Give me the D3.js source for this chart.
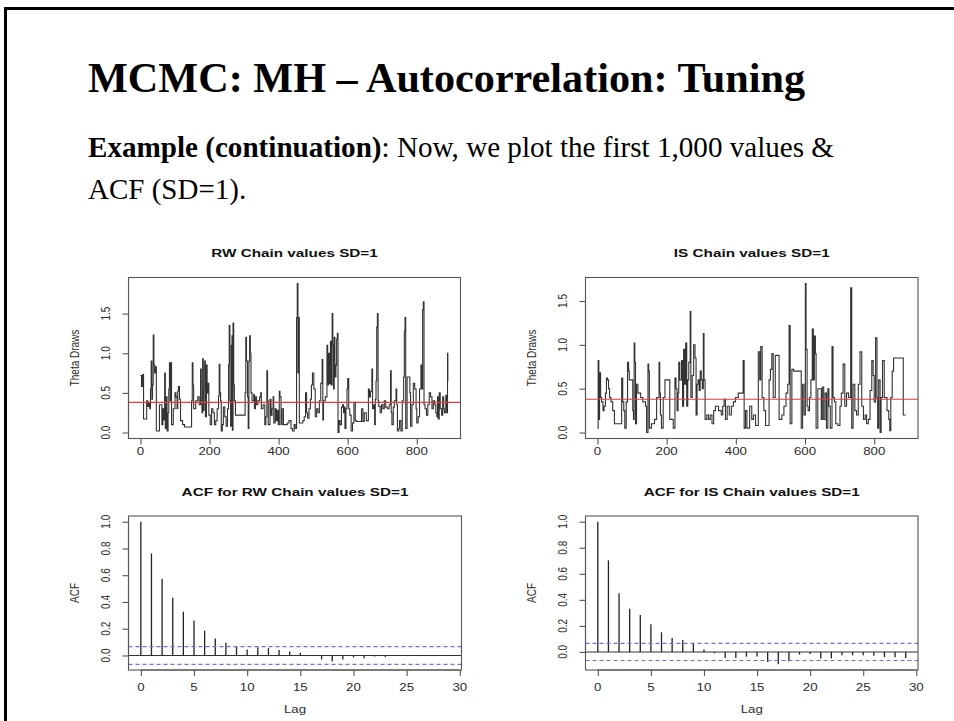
<!DOCTYPE html>
<html>
<head>
<meta charset="utf-8">
<script src="https://cdn.jsdelivr.net/npm/d3@7"></script>
<style>
  body { margin: 0; background: #fff; }
  svg { display: block; }
</style>
</head>
<body>
<svg id="slide" width="954" height="721"></svg>
<script>
// ---- Slide text ----
const slideTitle = "MCMC: MH \u2013 Autocorrelation: Tuning";
const introBold = "Example (continuation)";
const introRest = ": Now, we plot the first 1,000 values &";
const introLine2 = "ACF (SD=1).";

// ---- Panel titles and axis labels ----
const traceTitles = ["RW Chain values SD=1", "IS Chain values SD=1"];
const acfTitles = ["ACF for RW Chain values SD=1", "ACF for IS Chain values SD=1"];
const traceYLabel = "Theta Draws";
const acfYLabel = "ACF";
const acfXLabel = "Lag";

// ---- Chain draws: [iteration, theta] at each accepted move (value holds until the next move) ----
const chainLength = 891;
const rwSteps = [
  [0,0.72],[3,0.58],[6,0.73],[9,0.17],[18,0.40],[21,0.33],[24,0.38],[27,0.30],[29,0.55],[31,0.90],
  [33,0.42],[35,0.60],[37,1.23],[39,0.85],[41,0.75],[43,0.83],[46,0.02],[55,0.35],[62,0.10],[65,0.30],
  [67,0.16],[70,0.75],[72,0.05],[75,0.45],[77,0.02],[80,0.25],[82,0.55],[84,0.88],[86,0.40],[88,0.88],
  [90,0.10],[95,0.30],[100,0.50],[103,0.45],[106,0.30],[108,0.52],[110,0.58],[113,0.42],[116,0.15],[122,0.10],
  [128,0.07],[148,0.40],[150,0.88],[152,0.60],[154,0.30],[160,0.40],[166,0.45],[170,0.35],[174,0.80],[176,0.40],
  [178,0.25],[180,0.93],[182,0.28],[184,0.55],[186,0.90],[188,0.20],[191,0.85],[193,0.50],[196,0.62],[198,0.22],
  [202,0.10],[206,0.30],[210,0.25],[214,0.10],[218,0.15],[222,0.30],[226,0.46],[228,0.86],[230,0.50],[232,0.40],
  [234,0.02],[237,0.10],[240,0.32],[244,0.20],[248,0.08],[252,0.30],[255,0.85],[257,1.35],[259,0.40],[261,0.08],
  [263,1.10],[265,1.22],[266,0.03],[268,1.38],[270,0.60],[272,0.40],[275,0.22],[303,0.50],[305,1.20],[307,0.90],
  [310,0.45],[312,0.05],[314,0.90],[316,1.22],[318,1.00],[320,0.50],[323,0.40],[328,0.48],[330,0.30],[333,0.45],
  [336,0.35],[340,0.40],[345,0.45],[348,0.50],[350,0.30],[355,0.35],[360,0.10],[363,0.20],[366,0.78],[368,0.40],
  [370,0.10],[375,0.42],[378,0.22],[381,0.30],[384,0.45],[386,0.12],[390,0.30],[393,0.15],[396,0.28],[399,0.10],
  [402,0.52],[404,0.45],[407,0.10],[410,0.30],[414,0.10],[425,0.12],[430,0.15],[436,0.05],[440,0.02],[445,0.10],
  [448,0.05],[452,1.45],[454,1.88],[456,0.75],[458,1.45],[460,0.12],[470,0.15],[474,0.20],[478,0.50],[481,0.25],
  [484,0.18],[488,0.30],[492,0.42],[495,0.60],[498,0.75],[502,0.55],[506,0.20],[510,0.30],[514,0.25],[518,0.40],
  [522,0.62],[526,0.92],[528,0.16],[530,0.40],[535,0.45],[540,1.10],[542,0.60],[545,1.00],[548,0.62],[550,1.15],
  [552,0.60],[555,1.50],[557,1.10],[559,0.55],[561,1.20],[563,0.70],[566,0.85],[568,1.18],[570,1.25],[572,0.00],
  [575,0.15],[578,0.10],[582,0.32],[585,0.35],[588,0.25],[590,0.32],[592,0.05],[595,0.30],[598,0.55],[600,0.68],
  [603,0.30],[606,0.22],[610,0.02],[614,0.12],[618,0.38],[622,0.15],[626,0.14],[640,0.30],[644,0.14],[648,0.25],
  [654,0.15],[660,0.55],[663,0.45],[666,0.52],[670,0.80],[672,0.30],[675,0.35],[678,0.10],[680,0.42],[682,0.65],
  [684,1.33],[686,1.50],[688,0.40],[690,0.33],[694,0.25],[698,0.35],[702,0.30],[706,0.40],[710,0.32],[715,0.30],
  [720,0.35],[724,0.78],[726,0.25],[728,0.10],[732,0.32],[735,0.40],[740,0.55],[742,0.35],[744,0.02],[748,0.05],
  [750,0.15],[754,0.02],[758,0.40],[762,0.70],[764,1.28],[766,1.45],[768,0.05],[772,0.70],[780,0.50],[782,0.08],
  [786,0.35],[790,0.62],[794,0.55],[798,0.30],[800,0.12],[804,0.20],[808,0.55],[812,0.85],[815,0.55],[817,1.55],
  [819,1.65],[821,0.35],[824,0.30],[828,0.22],[832,0.35],[836,0.50],[840,0.45],[844,0.30],[848,0.40],[852,0.35],
  [855,0.25],[858,0.20],[860,0.45],[862,0.17],[865,0.50],[868,0.30],[872,0.22],[875,0.45],[878,0.30],[880,0.25],
  [884,0.47],[887,0.25],[889,1.00],[890,0.65]
];
const isSteps = [
  [0,0.05],[2,0.82],[4,0.15],[6,0.68],[9,0.40],[12,0.35],[16,0.25],[19,0.30],[23,0.45],[26,0.62],
  [29,0.60],[32,0.50],[35,0.40],[39,0.35],[44,0.25],[49,0.10],[70,0.62],[73,0.35],[76,0.25],[79,0.05],
  [83,0.35],[87,0.80],[90,0.70],[92,0.60],[102,0.25],[104,0.15],[106,1.02],[108,0.80],[110,0.10],[113,0.55],
  [117,0.45],[125,0.40],[131,0.35],[139,0.30],[142,0.00],[146,0.78],[148,0.70],[150,0.05],[156,0.10],[165,0.15],
  [171,0.40],[178,0.80],[180,0.45],[182,0.20],[185,0.05],[190,0.40],[195,0.60],[209,0.15],[219,0.05],[224,0.62],
  [227,0.50],[230,0.25],[233,0.45],[235,0.80],[238,0.60],[243,0.82],[246,0.30],[249,0.95],[252,0.55],[255,1.02],
  [258,0.30],[261,0.60],[264,0.80],[268,1.38],[270,0.40],[274,0.65],[278,1.00],[282,0.85],[285,0.20],[288,0.55],
  [291,0.60],[294,0.48],[297,0.70],[300,0.60],[303,0.50],[306,1.13],[308,0.60],[311,0.15],[316,0.20],[321,0.15],
  [326,0.20],[331,0.10],[336,0.25],[341,0.30],[350,0.25],[358,0.20],[362,0.30],[366,0.38],[370,0.15],[375,0.30],
  [381,0.20],[387,0.30],[393,0.35],[399,0.40],[407,0.45],[421,0.82],[424,0.05],[428,0.25],[432,0.05],[440,0.30],
  [446,0.15],[451,0.20],[457,0.08],[465,0.92],[469,0.60],[472,0.98],[476,0.40],[481,0.25],[486,0.08],[496,0.60],
  [500,0.72],[504,0.90],[508,0.40],[514,0.88],[525,0.15],[533,0.20],[539,0.30],[545,0.45],[550,0.55],[554,1.22],
  [557,0.10],[562,0.72],[567,0.70],[589,0.05],[593,0.55],[597,0.20],[601,1.70],[603,0.95],[606,0.30],[609,0.25],
  [613,0.40],[617,0.60],[621,1.18],[624,0.60],[627,1.10],[630,0.90],[632,0.05],[637,0.50],[647,0.15],[650,0.52],
  [654,0.15],[658,0.45],[662,0.05],[666,0.50],[669,0.30],[673,0.05],[678,0.98],[681,0.40],[685,0.35],[689,0.10],
  [695,0.08],[701,0.30],[705,0.45],[710,0.78],[715,0.30],[720,0.45],[726,0.40],[732,1.65],[735,0.05],[739,0.55],
  [744,0.25],[749,0.20],[754,0.55],[759,0.92],[764,0.30],[769,0.15],[774,0.20],[778,0.10],[783,0.15],[788,0.48],
  [793,0.82],[797,0.65],[800,0.35],[804,1.08],[808,0.40],[810,0.05],[813,0.60],[817,0.00],[820,0.40],[824,0.82],
  [829,0.40],[837,0.25],[842,0.15],[845,0.02],[848,0.40],[852,0.70],[856,0.85],[884,0.20]
];
const meanTheta = 0.38;

// ---- Sample autocorrelations, lags 0..29 ----
const rwAcf = [1.000, 0.763, 0.574, 0.431, 0.327, 0.262, 0.185, 0.127, 0.095, 0.065,
               0.045, 0.062, 0.055, 0.040, 0.030, 0.020, 0.002, -0.030, -0.045, -0.030,
               -0.015, -0.020, -0.008, -0.012, 0.000, -0.005, 0.003, 0.002, -0.002, 0.001];
const isAcf = [1.000, 0.703, 0.450, 0.332, 0.284, 0.212, 0.151, 0.107, 0.092, 0.061,
               0.018, -0.010, -0.046, -0.046, -0.036, -0.036, -0.077, -0.095, -0.072, -0.020,
               -0.015, -0.050, -0.050, -0.026, -0.026, -0.026, -0.030, -0.040, -0.040, -0.046];
const ciBound = 0.066;

// ---- Tick values ----
const traceXTicks = [0, 200, 400, 600, 800];
const traceYTicks = [0, 0.5, 1.0, 1.5];
const acfXTicks = [0, 5, 10, 15, 20, 25, 30];
const acfYTicks = [0, 0.2, 0.4, 0.6, 0.8, 1.0];

// ---------------------------------------------------------------
const svg = d3.select("#slide");
const SANS = "'Liberation Sans', Arial, Helvetica, sans-serif";
const SERIF = "'Liberation Serif', 'Times New Roman', serif";
const STRETCH = 1.33;          // the R graphics are widened on the slide
const INK = "#2b2b2b";

// slide frame (top and left rules)
svg.append("line").attr("x1", 4).attr("x2", 954).attr("y1", 8.5).attr("y2", 8.5)
  .attr("stroke", "#000").attr("stroke-width", 3);
svg.append("line").attr("x1", 5.5).attr("x2", 5.5).attr("y1", 7).attr("y2", 721)
  .attr("stroke", "#000").attr("stroke-width", 3);

// headline
svg.append("text").attr("x", 88).attr("y", 92)
  .attr("font-family", SERIF).attr("font-weight", "bold").attr("font-size", 42)
  .attr("textLength", 717).attr("lengthAdjust", "spacingAndGlyphs")
  .text(slideTitle);

const intro = svg.append("text").attr("x", 88).attr("y", 157)
  .attr("font-family", SERIF).attr("font-size", 29)
  .attr("textLength", 746).attr("lengthAdjust", "spacingAndGlyphs");
intro.append("tspan").attr("font-weight", "bold").text(introBold);
intro.append("tspan").text(introRest);
svg.append("text").attr("x", 88).attr("y", 199)
  .attr("font-family", SERIF).attr("font-size", 29)
  .text(introLine2);

// stretched R-style text helper
function rText(g, x, y, str, opt = {}) {
  const rot = opt.rotate ? " rotate(-90)" : "";
  return g.append("text")
    .attr("transform", `translate(${x},${y}) scale(${STRETCH},1)${rot}`)
    .attr("text-anchor", "middle")
    .attr("dominant-baseline", "central")
    .attr("font-family", SANS)
    .attr("font-size", opt.size || 10)
    .attr("font-weight", opt.bold ? "bold" : "normal")
    .attr("fill", opt.fill || INK)
    .text(str);
}

// R pads the data range by 4% on each side
function rDomain(lo, hi) {
  const pad = (hi - lo) * 0.04;
  return [lo - pad, hi + pad];
}

function frame(g, box, x, y, xt, yt, xFmt, yFmt, tickGap) {
  g.append("rect")
    .attr("x", box.left).attr("y", box.top)
    .attr("width", box.right - box.left).attr("height", box.bottom - box.top)
    .attr("fill", "none").attr("stroke", "#555").attr("stroke-width", 1.1);

  // bottom axis
  const xa = g.append("g").attr("transform", `translate(0,${box.bottom})`)
    .call(d3.axisBottom(x).tickValues(xt).tickSize(6).tickFormat(() => ""));
  xa.select(".domain").attr("stroke", "#555").attr("stroke-width", 1.1)
    .attr("d", `M${x(xt[0])},0H${x(xt[xt.length - 1])}`);
  xa.selectAll(".tick line").attr("stroke", "#555").attr("stroke-width", 1.1);
  xt.forEach(v => rText(g, x(v), box.bottom + tickGap, xFmt(v)));

  // left axis
  const ya = g.append("g").attr("transform", `translate(${box.left},0)`)
    .call(d3.axisLeft(y).tickValues(yt).tickSize(6).tickFormat(() => ""));
  ya.select(".domain").attr("stroke", "#555").attr("stroke-width", 1.1)
    .attr("d", `M0,${y(yt[0])}V${y(yt[yt.length - 1])}`);
  ya.selectAll(".tick line").attr("stroke", "#555").attr("stroke-width", 1.1);
  yt.forEach(v => rText(g, box.left - 24, y(v), yFmt(v), { rotate: true }));
}

// ---- trace plots ----
function tracePanel(box, steps, title) {
  const g = svg.append("g");
  const x = d3.scaleLinear().domain(rDomain(1, chainLength)).range([box.left, box.right]);
  const ymax = d3.max(steps, d => d[1]);
  const ymin = d3.min(steps, d => d[1]);
  const y = d3.scaleLinear().domain(rDomain(ymin, ymax)).range([box.bottom, box.top]);

  const pts = steps.concat([[chainLength, steps[steps.length - 1][1]]]);
  g.append("path")
    .attr("d", d3.line().x(d => x(d[0])).y(d => y(d[1])).curve(d3.curveStepAfter)(pts))
    .attr("fill", "none").attr("stroke", "#333").attr("stroke-width", 1.1);

  g.append("line")
    .attr("x1", box.left).attr("x2", box.right)
    .attr("y1", y(meanTheta)).attr("y2", y(meanTheta))
    .attr("stroke", "#e8393c").attr("stroke-width", 1.1);

  frame(g, box, x, y, traceXTicks, traceYTicks, d3.format("d"), d3.format(".1f"), 13);
  rText(g, (box.left + box.right) / 2, box.top - 24, title, { bold: true, size: 11.5, fill: "#111" });
  rText(g, box.left - 55, (box.top + box.bottom) / 2, traceYLabel, { rotate: true });
}

// ---- ACF plots ----
function acfPanel(box, acf, title) {
  const g = svg.append("g");
  const lagIdx = d3.range(acf.length);
  const x = d3.scaleLinear().domain(rDomain(0, acf.length - 1)).range([box.left, box.right]);
  const lo = Math.min(d3.min(acf), -ciBound);
  const hi = Math.max(d3.max(acf), ciBound);
  const y = d3.scaleLinear().domain(rDomain(lo, hi)).range([box.bottom, box.top]);

  g.append("line").attr("x1", box.left).attr("x2", box.right)
    .attr("y1", y(0)).attr("y2", y(0)).attr("stroke", "#333").attr("stroke-width", 1.1);

  g.selectAll("line.spike").data(lagIdx).join("line").attr("class", "spike")
    .attr("x1", i => x(i)).attr("x2", i => x(i))
    .attr("y1", y(0)).attr("y2", i => y(acf[i]))
    .attr("stroke", "#222").attr("stroke-width", 1.3);

  [ciBound, -ciBound].forEach(c => {
    g.append("line").attr("x1", box.left).attr("x2", box.right)
      .attr("y1", y(c)).attr("y2", y(c))
      .attr("stroke", "#6e6ee6").attr("stroke-width", 1.2)
      .attr("stroke-dasharray", "4,3");
  });

  frame(g, box, x, y, acfXTicks, acfYTicks, d3.format("d"), d3.format(".1f"), 17);
  rText(g, (box.left + box.right) / 2, box.top - 24, title, { bold: true, size: 11.5, fill: "#111" });
  rText(g, box.left - 55, (box.top + box.bottom) / 2, acfYLabel, { rotate: true });
  rText(g, (box.left + box.right) / 2, box.bottom + 39, acfXLabel);
}

tracePanel({ left: 128.5, right: 460.5, top: 277.5, bottom: 438.5 }, rwSteps, traceTitles[0]);
tracePanel({ left: 585.5, right: 918, top: 277.5, bottom: 438.5 }, isSteps, traceTitles[1]);
acfPanel({ left: 128.5, right: 461.5, top: 516, bottom: 670 }, rwAcf, acfTitles[0]);
acfPanel({ left: 585.5, right: 918, top: 516, bottom: 670 }, isAcf, acfTitles[1]);
</script>
</body>
</html>
